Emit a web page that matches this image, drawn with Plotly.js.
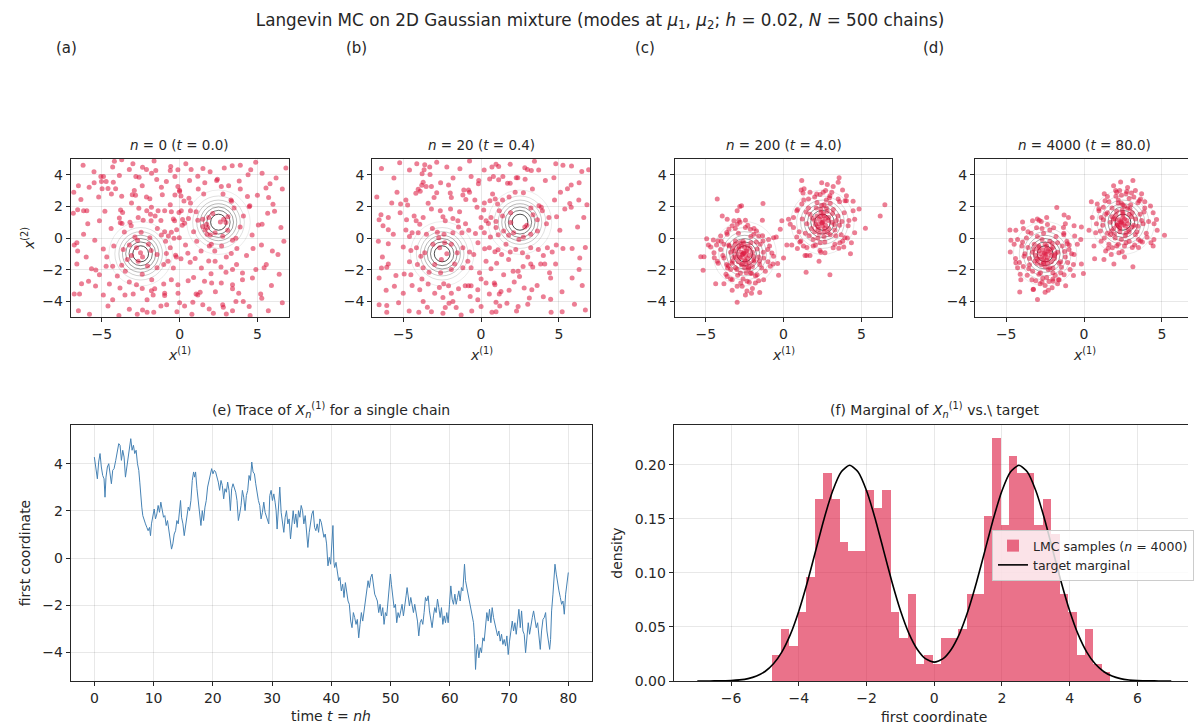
<!DOCTYPE html>
<html>
<head>
<meta charset="utf-8">
<script src="https://cdn.plot.ly/plotly-3.0.1.min.js"></script>
<style>
html,body{margin:0;padding:0;background:#fff;}
#chart{width:1194px;height:726px;}
</style>
</head>
<body>
<div id="chart"></div>
<script>
// ---------------- DATA ----------------
const panelLetters = ['(a)', '(b)', '(c)', '(d)'];
const panelSteps = [0, 20, 200, 4000];
const panelTimes = ['0.0', '0.4', '4.0', '80.0'];
const modeCenters = [[-2.5, -1.0], [2.5, 1.0]];
const contourRadii = [2.04, 1.66, 1.40, 1.17, 0.965, 0.75, 0.507];
const contourGreys = ['rgba(0,0,0,0.08)', 'rgba(0,0,0,0.13)', 'rgba(0,0,0,0.2)', 'rgba(0,0,0,0.28)', 'rgba(0,0,0,0.38)', 'rgba(0,0,0,0.5)', 'rgba(0,0,0,0.7)'];

const ptsA = [
[-4.19,4.85],[-3.72,4.96],[-1.64,4.87],[-0.57,4.53],[-0.6,4.28],[-0.11,4.32],[0.74,4.34],[1.96,4.19],[2.87,4.43],[3.38,4.57],[4.57,4.32],[4.89,4.79],[6.83,4.43],[-4.3,4.49],[-3.23,4.34],[-2.38,4.47],[-2.13,4.34],[-1.53,4.28],
[-5.06,3.89],[-4.89,3.89],[-5.49,3.49],[-5.81,3.21],[-5.02,3.57],[-4.72,3.57],[-4.98,3.11],[-4.6,3.13],[-4.26,3.53],[-3.87,3.96],[-2.81,3.89],[-2.6,3.85],[-4.11,3.11],[-1.47,3.7],[-1.17,3.21],[-0.85,3.57],[-0.11,3.26],[0,3.02],[0.64,3.64],[1.17,3.91],[1.62,3.49],[2.38,3.64],[2.43,3.72],[2.68,3.26],[3.15,3.3],[3.83,3.6],[5.55,3.17],[5.81,3.43],[-2.91,3.0],
[-6.34,2.43],[-4.38,2.79],[-3.72,2.64],[-3.04,2.74],[-2.83,2.7],[-2.13,2.6],[-1.91,2.49],[-3.09,2.21],[-2.62,1.89],[-1.81,1.94],[-1.11,2.74],[-0.3,2.72],[0.09,2.66],[0,2.94],[0.28,2.34],[0.6,2.51],[0.7,2.21],[1.55,2.79],[2.79,2.79],[3.3,2.4],[3.34,2.32],[4.36,2.62],[4.51,2.04],[5.72,2.57],[6.0,2.13],[-6.55,1.79],[-6.17,1.72],[-5.96,1.72],[-6.83,1.57],
[-5.15,1.09],[-3.87,1.26],[-3.79,1.77],[-3.66,1.62],[-3.81,0.96],[-3.7,0.91],[-3.19,1.0],[-2.66,1.3],[-2.34,1.13],[-2.11,1.72],[-1.87,1.51],[-1.83,1.09],[-1.57,1.4],[-1.38,1.72],[-0.96,1.72],[-0.53,1.66],[-0.4,1.21],[-0.32,1.09],[-0.04,1.62],[0.11,1.72],[0.19,1.17],[0.57,1.23],[0.32,0.94],[0.7,1.72],[1.06,1.66],[1.17,1.13],[1.49,1.19],[1.87,1.3],[1.49,0.72],[1.74,0.87],[2.13,1.55],[2.62,1.02],[2.83,1.19],[2.98,0.98],[3.11,1.34],[4.47,1.98],[5.06,0.83],[5.3,0.87],[5.66,1.57],[6.51,0.66],[1.81,0.66],
[-3.55,0.38],[-3.11,0.77],[-2.87,0.06],[-2.7,-0.15],[-2.47,0.36],[-1.91,0.02],[-1.43,0.6],[-1.17,0.19],[-0.96,0.4],[-0.72,0.13],[-0.53,0.36],[-0.36,-0.02],[-0.19,0.53],[-0.02,0.02],[0.17,0.81],[-6.17,0.23],[-5.45,-0.15],[-6.77,-0.45],[-6.6,-0.3],[1.64,0.51],[1.77,0.23],[1.98,0.19],[2.28,0.34],[2.77,0.11],[3.09,0.49],[3.4,-0.15],[3.62,-0.02],[3.89,0.7],[4.66,0.19],
[-6.55,-0.83],[-4.23,-0.51],[-3.62,-0.72],[-3.23,-0.45],[-3.09,-1.11],[-2.77,-0.62],[-2.51,-0.94],[-2.38,-1.21],[-1.83,-0.79],[-1.45,-1.04],[-0.85,-0.98],[-0.6,-0.62],[-0.26,-1.09],[-0.21,-1.21],[0.38,-0.45],[0.53,-0.96],[1.38,-0.83],[1.91,-0.51],[2.26,-0.83],[2.04,-0.4],[3.32,-0.98],[3.68,-0.66],[4.72,-0.66],[5.26,-0.45],[5.96,-0.83],[6.32,-1.04],[-4.68,-1.21],
[-6.6,-1.64],[-5.38,-2.02],[-5.15,-2.32],[-4.72,-1.79],[-4.3,-1.79],[-3.72,-1.72],[-3.49,-2.11],[-3.36,-1.36],[-2.66,-1.47],[-2.06,-1.77],[-1.45,-1.89],[-1.02,-1.68],[-0.74,-1.47],[0.09,-1.32],[0.68,-1.53],[1.0,-1.3],[1.87,-1.45],[2.28,-1.47],[2.66,-1.83],[2.98,-2.17],[3.4,-2.0],[4.04,-2.21],[3.66,-1.68],[5.57,-1.68],[5.43,-1.89],[-5.66,-1.94],[2.02,-2.26],
[-5.85,-2.74],[-5.4,-3.04],[-4.51,-2.91],[-3.83,-3.17],[-3.23,-2.79],[-2.77,-2.96],[-1.79,-2.64],[-1.81,-3.34],[-1.6,-3.21],[-1.02,-2.91],[-0.11,-2.96],[-0.53,-2.64],[0.55,-2.7],[1.6,-2.74],[2.06,-2.85],[2.68,-2.85],[3.4,-2.96],[3.4,-3.21],[4.04,-2.64],[4.68,-2.53],
[-6.77,-3.55],[-6.43,-3.55],[-3.51,-3.6],[-2.98,-3.55],[-2.09,-3.91],[-1.7,-3.6],[-0.96,-3.49],[-0.96,-3.64],[-0.83,-4.23],[0.32,-4.3],[0.85,-4.06],[1.06,-3.55],[1.32,-3.43],[1.17,-3.6],[1.49,-4.23],[2.77,-4.23],[2.81,-4.38],[3.62,-4.02],[4.09,-4.02],[4.47,-4.34],[5.21,-3.55],[5.28,-3.81],[-4.3,-3.91],
[-5.79,-4.83],[-3.23,-4.51],[-2.72,-4.83],[-2.38,-4.55],[-2.09,-4.7],[-1.66,-4.7],[-0.17,-4.66],[0.79,-4.83],[2.17,-4.77],[3.0,-4.81],[4.53,-4.91],
[-6.2,4.6],[-5.5,4.2],[-6.5,3.3],[-3.0,4.7],[-0.3,3.9],[0.4,4.7],[1.5,4.4],[3.9,4.6],[5.3,4.1],[6.2,3.8],[-6.8,2.9],[-5.2,2.6],[-2.4,3.3],[-0.6,2.1],[1.2,3.1],[3.9,3.1],[5.0,2.7],[6.6,3.1],[-4.8,1.7],[-4.4,0.6],[-1.2,1.1],[0.9,0.4],[3.5,1.9],[4.1,1.4],[6.1,1.7],[-5.9,0.9],[-4.9,-0.7],[-2.0,-0.4],[-0.9,-0.2],[1.1,-0.2],[2.7,-0.5],[4.3,-1.1],[6.7,-0.2],[-6.0,-1.2],[-4.0,-2.4],[-2.4,-2.3],[-0.4,-1.9],[1.4,-1.9],[3.0,-1.2],[4.9,-2.0],[6.4,-2.3],[-6.3,-2.9],[-4.9,-3.6],[-2.4,-3.2],[-0.1,-3.5],[0.9,-2.5],[2.3,-3.4],[3.8,-3.5],[5.9,-3.0],[6.6,-4.1],[-6.5,-4.6],[-4.6,-4.3],[-1.2,-4.3],[1.9,-4.5],[3.4,-4.6],[5.7,-4.6],[-3.9,-4.9],[0.0,-4.1],[4.4,4.0],[-1.8,4.1]
];

const ptsB = [
[-5.23,4.77],[-4.13,4.7],[-3.62,4.64],[-2.85,4.79],[-3.66,4.32],[-3.79,4.06],[-3.28,4.02],[-1.36,4.38],[-0.74,4.87],[0.96,4.66],[0.7,4.49],[1.13,4.53],[1.87,4.66],[3.43,4.85],[2.98,4.34],[3.23,4.28],[2.81,4.45],[5.26,4.6],[5.81,4.55],[6.47,4.21],[6.91,4.32],
[-0.64,3.89],[-3.72,3.53],[-3.81,3.34],[-3.53,3.26],[-3.19,3.26],[-4.04,3.09],[-2.6,3.49],[-2.09,3.36],[-1.11,3.04],[-0.81,3.04],[-0.15,3.64],[-0.17,3.43],[0.55,3.74],[0.79,3.89],[1.13,3.68],[1.7,3.47],[1.87,3.47],[2.26,3.81],[2.36,3.81],[2.83,3.72],[4.13,3.64],[4.68,3.81],[5.55,3.11],[5.79,3.36],
[-4.19,2.83],[-3.91,2.96],[-3.02,2.57],[-2.85,2.87],[-1.98,2.85],[-1.91,2.57],[-1.17,2.72],[-0.74,2.89],[-0.98,2.43],[-5.74,2.21],[-5.17,2.15],[-4.83,2.4],[-4.72,2.09],[0.57,2.36],[0.21,2.21],[0.91,2.47],[1.06,2.15],[1.38,2.4],[0.74,2.79],[2.19,2.89],[2.72,2.87],[3.72,2.04],[3.87,1.94],[4.72,2.4],[5.7,2.19],[6.28,2.4],
[-6.55,1.15],[-6.43,1.47],[-5.96,1.3],[-6.3,0.77],[-4.79,1.15],[-4.3,1.4],[-4.17,1.09],[-3.94,0.87],[-3.72,1.3],[-3.19,1.83],[-2.62,1.72],[-2.45,1.34],[-2.3,1.09],[-1.96,1.83],[-1.81,1.23],[-1.49,1.09],[-1.38,1.66],[-0.26,1.94],[0,1.3],[0.17,1.77],[0.32,1.09],[0.47,0.91],[0.64,1.3],[0.96,1.04],[1.17,1.72],[1.38,1.4],[1.91,0.98],[2.81,0.7],[2.94,0.81],[3.34,1.47],[3.62,1.15],[3.94,1.72],[4.36,1.3],[4.85,1.34],[5.38,1.83],[5.79,1.94],[6.6,1.3],
[-5.96,0.53],[-5.64,0.23],[-4.83,0.51],[-4.43,0.34],[-4.04,0.34],[-3.51,0.23],[-3.13,0.6],[-2.81,0.36],[-2.72,0.02],[-2.38,0.23],[-1.81,0.34],[-1.45,0.7],[-1.23,0.34],[-0.79,0.49],[-0.36,0.28],[0,0.66],[0.21,0.34],[0.6,0.06],[0.96,0.66],[1.45,0.45],[1.77,0.17],[2.09,0.34],[2.43,-0.09],[2.72,0.06],[3.19,0.23],[3.62,0.45],[5.06,0.49],
[-5.96,-0.36],[-5.0,-0.57],[-4.51,-0.79],[-4.15,-0.62],[-3.87,-1.15],[-3.62,-0.94],[-3.09,-0.4],[-2.66,-0.62],[-2.34,-0.3],[-1.91,-0.4],[-1.53,-0.94],[-1.17,-0.62],[-0.74,-0.89],[-0.47,-1.04],[0.23,-0.68],[0.53,-0.62],[0.89,-0.87],[1.09,-0.74],[1.32,-1.04],[1.87,-0.89],[2.23,-0.72],[2.66,-0.94],[3.19,-0.62],[3.68,-0.72],[4.26,-0.62],[4.57,-0.89],[4.83,-0.45],[5.26,-0.66],[5.85,-0.66],[6.34,-1.26],[-6.34,-1.21],
[-5.96,-1.64],[-6.06,-1.85],[-5.47,-2.38],[-4.94,-2.28],[-4.51,-2.32],[-4.09,-1.68],[-3.72,-1.89],[-3.34,-2.17],[-2.98,-1.68],[-2.55,-1.36],[-1.91,-2.0],[-1.7,-1.64],[-1.17,-1.89],[-0.85,-1.47],[-0.64,-1.89],[0.32,-1.47],[0.64,-1.94],[1.45,-2.32],[1.77,-1.36],[2.06,-2.11],[2.38,-2.11],[2.47,-2.43],[3.19,-1.64],[3.32,-1.83],[3.83,-1.64],[4.09,-1.64],[4.79,-1.64],
[-6.55,-2.53],[-5.57,-3.06],[-4.43,-3.0],[-3.94,-3.28],[-3.4,-2.91],[-2.98,-3.49],[-2.68,-3.13],[-2.09,-3.02],[-1.91,-3.49],[-1.45,-3.21],[-1.02,-3.02],[-0.81,-3.02],[-0.64,-3.02],[-0.21,-3.28],[0.32,-2.85],[0.85,-2.85],[0.89,-2.96],[1.28,-3.38],[2.13,-2.79],[2.77,-3.17],[3.26,-3.28],[4.47,-2.53],[5.85,-2.53],
[-6.55,-4.23],[-6.06,-4.28],[-6.06,-4.7],[-4.62,-4.62],[-3.72,-4.02],[-3.45,-4.38],[-2.45,-3.77],[-2.06,-4.13],[-2.3,-4.4],[-1.81,-4.02],[-2.45,-4.77],[-3.19,-4.66],[-1.28,-4.87],[-0.6,-4.62],[-0.21,-3.91],[0,-4.34],[0.53,-3.55],[0.7,-4.7],[0.96,-4.06],[1.17,-3.55],[1.66,-4.13],[2.28,-4.62],[2.38,-4.34],[4.0,-3.72],[4.47,-3.87],[5.21,-4.66],[6.7,-4.55],[0.96,-4.66],
[-6.4,4.4],[-5.6,3.8],[-4.6,4.3],[-2.2,4.5],[-1.8,3.8],[0.2,4.3],[1.4,3.9],[3.7,4.3],[4.8,4.7],[6.3,3.5],[-6.7,2.6],[-5.4,2.9],[-3.4,2.2],[-0.4,2.4],[1.8,2.6],[3.3,3.1],[5.1,2.9],[6.8,2.1],[-5.2,1.6],[-4.6,0.1],[-1.0,0.9],[1.1,0.2],[3.2,1.9],[4.2,0.9],[6.2,0.7],[-6.6,-0.2],[-4.6,-1.5],[-2.2,-1.0],[-0.2,-0.3],[1.6,-0.4],[3.0,-1.2],[4.0,-1.1],[6.7,-0.6],[-6.4,-1.9],[-3.8,-2.6],[-2.6,-2.2],[-0.1,-2.2],[1.0,-1.6],[2.7,-1.8],[4.4,-2.2],[6.3,-2.0],[-6.1,-3.3],[-5.0,-3.5],[-2.4,-2.9],[0.0,-2.6],[1.8,-3.3],[3.6,-3.0],[5.2,-3.4],[6.5,-3.0],[-5.3,-4.1],[-4.0,-4.7],[-1.6,-4.4],[1.2,-4.3],[3.0,-4.2],[4.5,-4.7],[6.0,-4.2],[-0.7,-3.7],[3.1,-3.8],[-3.3,4.5],[1.9,1.6]
];

const ptsC = [
[-4.26,2.47],[-2.98,1.72],[-2.81,2.0],[-2.7,2.04],[-1.32,2.19],[-3.94,1.4],[-3.62,1.19],[-3.19,1.09],[-2.87,1.13],[-2.45,1.13],[-1.36,1.13],[-2.98,0.87],[-3.3,0.77],[-2.45,0.66],[-2.13,0.55],[-1.74,0.45],[-3.51,0.55],[-3.62,0.23],[-4.04,0.13],[-4.94,-0.04],[-4.51,-0.13],[-4.21,-0.19],[-4.83,-0.45],[-4.68,-0.57],[-4.3,-0.45],[-4.04,-0.72],[-4.47,-0.94],[-5.32,-1.19],[-5.11,-1.19],[-5.17,-2.04],[-4.26,-1.47],[-3.83,-1.26],[-3.66,-1.68],[-3.4,-2.0],[-3.62,-2.43],[-4.36,-2.89],[-3.83,-2.89],[-3.3,-2.64],[-2.98,-3.06],[-2.66,-3.06],[-2.45,-3.6],[-2.06,-3.49],[-1.81,-2.85],[-1.53,-3.45],[-2.98,-4.06],[-2.34,-2.74],[-2.77,-2.21],[-2.13,-2.21],[-1.7,-2.32],[-1.28,-2.64],[-1.17,-2.11],[-0.85,-1.79],[-0.68,-1.64],[-0.32,-2.36],[-0.38,-1.62],[-0.64,-1.15],[-1.02,-0.72],[-0.96,-0.09],[-0.64,0.02],[-0.47,0.06],[-0.21,0.55],[0,-1.26],[-1.32,-0.19],[-1.6,0.13],[-1.91,0.23],[-1.28,-1.26],[-1.53,-1.68],[-1.91,-1.47],[-2.23,-1.89],[-3.09,-1.89],[-3.3,-1.47],[-3.19,-0.83],[-3.51,-0.45],[-3.83,-0.4],[-3.09,-0.19],
[-2.6,-1.0],[-2.4,-0.8],[-2.8,-1.2],[-2.2,-1.1],[-2.9,-0.7],[-2.5,-1.4],[-2.7,-0.5],[-2.3,-0.5],[-3.0,-1.0],[-2.0,-0.9],[-2.4,-1.7],[-2.9,-1.5],[-3.2,-1.2],[-1.9,-1.4],[-2.1,-0.3],[-2.6,-0.2],[-3.1,-0.4],[-2.5,-1.9],[-3.4,-0.9],[-1.7,-0.7],[-2.2,-1.6],[-2.7,-0.9],[-2.5,-0.6],[-2.45,-1.1],[-2.8,-0.3],[-2.0,-1.8],[-3.3,-1.6],[-1.6,-1.2],[-2.4,-2.2],[-3.0,-2.0],[-2.7,-1.7],[-2.1,0.1],[-3.5,-0.5],[-1.5,-0.4],[-2.9,0.3],[-2.3,-1.3],[-2.65,-1.05],[-2.55,-0.95],[-2.75,-1.25],[-2.35,-0.85],
[-3.6,-1.9],[-1.8,-2.4],[-3.9,-1.1],[-1.3,-0.9],[-2.2,-2.8],[-3.1,0.6],[-1.9,0.6],[-2.6,-2.6],[-3.7,-2.3],[-1.4,-1.9],[-4.2,-1.6],[-1.0,-1.5],[-3.3,-3.3],[-2.0,-3.2],[-2.8,1.0],[-2.3,0.8],[-4.0,-0.2],[-0.9,-0.5],[-3.4,-2.6],[-1.6,-2.7],[-2.45,-1.45],[-2.85,-0.55],[-2.15,-0.65],[-3.05,-1.25],[-2.65,-1.65],[-1.95,-1.15],[-2.25,-1.95],[-3.25,-0.65],[-2.55,-0.35],[-1.75,-0.25],[-3.55,-1.75],[-1.55,-1.45],[-2.95,-2.35],[-2.05,-2.25],[-3.65,0.35],[-1.35,0.15],[-2.75,-2.85],[-2.35,-3.35],[-4.45,-1.25],[-0.75,-0.95],
[1.17,3.64],[1.13,3.04],[1.32,3.11],[1.7,2.89],[2.45,3.49],[2.81,3.38],[3.19,3.26],[3.57,3.81],[3.51,3.53],[3.79,3.04],[4.04,2.68],[4.47,2.32],[4.85,1.83],[6.51,2.11],[6.21,1.4],[5.26,0.62],[4.57,0.34],[4.36,-0.3],[4.3,-1.0],[3.87,-0.57],[2.98,-2.32],[2.28,-1.47],[1.45,-2.17],[1.49,-1.11],[1.38,-1.11],[0.89,-0.66],[0.53,-0.45],[0.21,-0.45],[-0.11,1.09],[0.32,1.19],[0.43,0.87],[0.64,0.66],[0.85,0.06],[1.11,-0.19],[1.28,-0.51],[1.91,-0.51],[2.34,-0.79],[2.66,-0.94],[3.19,-0.62],[3.62,-0.3],[3.94,0.02],[4.15,0.77],[4.57,1.19],[4.47,1.72],[4.04,2.36],[3.51,2.47],[2.98,2.68],[2.55,2.89],[2.13,2.79],[1.6,2.47],[1.17,2.15],[0.85,1.72],[0.64,1.3],
[2.5,1.0],[2.3,1.2],[2.7,0.8],[2.2,0.7],[2.9,1.3],[2.4,1.6],[2.6,0.4],[2.0,1.1],[3.1,1.0],[2.8,1.7],[1.8,0.6],[3.3,0.5],[2.1,1.9],[2.55,1.05],[2.45,0.95],[2.7,1.25],[2.3,0.3],[3.0,0.2],[1.7,1.5],[3.5,1.4],[2.6,2.1],[1.9,-0.1],[3.2,1.8],[2.2,0.0],[2.9,0.6],[1.5,0.9],[3.6,0.8],[2.4,1.35],[2.65,0.6],[2.85,1.1],[2.15,1.4],[3.4,1.1],[2.0,0.4],[2.75,2.4],[1.6,1.9],[3.0,2.2],[2.35,-0.3],[3.7,0.2],[1.4,0.3],[2.5,0.75],[2.6,1.4],[2.25,0.9],
[3.6,2.3],[1.5,-0.6],[3.9,1.6],[1.2,1.2],[3.3,-0.4],[2.0,2.6],[1.0,0.4],[3.8,-0.2],[2.7,3.0],[1.3,2.4],[4.2,1.1],[2.4,-0.9],[3.1,2.9],[1.7,-1.1],[4.1,0.0],[0.9,1.8],[2.55,1.55],[2.25,0.55],[2.85,0.35],[3.15,1.55],[1.85,1.25],[2.45,2.05],[3.35,0.15],[1.65,0.15],[2.95,2.55],[2.05,-0.45],[3.75,1.05],[1.45,1.65],[2.65,-0.25],[2.15,2.25],[3.55,-0.65],[1.05,-0.25],[2.35,2.75],[3.95,2.35],[1.25,2.85],[2.75,1.9],[2.05,0.85],[3.25,0.85],[2.6,0.1],[2.4,1.8]
];

const ptsD = [
[-1.75,1.93],[-1.28,1.45],[-1.0,1.3],[-2.88,1.13],[-3.31,1.09],[-3.95,1.02],[-4.76,0.51],[-4.38,0.49],[-4.7,-0.15],[-4.27,-0.09],[-4.49,-0.4],[-4.74,-0.89],[-4.38,-1.57],[-4.27,-1.89],[-4.06,-2.64],[-4.13,-3.41],[-3.27,-3.26],[-2.99,-3.9],[-2.5,-3.43],[-2.82,-2.9],[-1.99,-2.74],[-1.6,-2.64],[-1.18,-3.02],[-1.28,-2.32],[-0.68,-2.38],[-0.04,-2.25],[-0.17,-1.64],[-0.68,-1.68],[-0.64,-1.04],[-0.43,-0.4],[-0.6,0.13],[-0.21,-0.09],[-0.17,0.7],[-0.64,0.77],[-1.32,0.66],[-1.07,-0.36],[-0.96,-0.72],
[-2.5,-1.0],[-2.3,-0.8],[-2.7,-1.2],[-2.1,-1.1],[-2.9,-0.8],[-2.6,-1.5],[-2.4,-0.5],[-2.0,-0.6],[-3.1,-1.1],[-1.9,-1.3],[-2.5,-1.8],[-3.0,-1.6],[-3.3,-0.9],[-1.7,-0.9],[-2.2,-0.2],[-2.7,-0.1],[-3.2,-0.4],[-2.3,-2.0],[-3.5,-1.3],[-1.6,-1.6],[-2.8,-2.2],[-2.0,-1.9],[-3.6,-0.6],[-1.4,-0.5],[-2.6,0.3],[-3.0,0.1],[-1.8,0.1],[-2.4,-2.5],[-3.3,-2.1],[-1.5,-2.2],[-2.55,-0.95],[-2.45,-1.05],[-2.65,-0.75],[-2.35,-1.25],[-2.8,-1.0],[-2.2,-0.9],[-2.6,-1.3],[-2.4,-0.7],[-2.9,-1.35],[-2.1,-1.5],[-3.8,-1.0],[-1.2,-1.2],[-2.7,0.6],[-2.2,0.5],[-3.4,0.3],[-3.9,-1.8],[-1.1,-0.2],[-2.0,-2.6],[-3.1,-2.7],[-1.7,-2.9],[-2.5,-3.0],[-3.7,0.0],[-4.0,-0.5],[-1.3,0.3],[-2.9,-0.5],[-2.05,-0.35],[-3.15,-1.45],[-2.35,-1.6],[-1.85,-1.0],[-2.75,-1.7],
[-3.55,-1.95],[-1.85,-2.35],[-3.85,-1.15],[-1.25,-0.85],[-2.25,-2.75],[-3.05,0.65],[-1.95,0.65],[-2.65,-2.55],[-3.65,-2.35],[-1.45,-1.85],[-4.15,-1.55],[-1.05,-1.55],[-3.25,-3.25],[-2.05,-3.15],[-2.75,1.05],[-2.35,0.85],[-3.95,-0.25],[-0.95,-0.45],[-3.35,-2.65],[-1.65,-2.65],[-2.4,-1.4],[-2.9,-0.6],[-2.1,-0.7],[-3.0,-1.3],[-2.6,-1.6],[-1.9,-1.1],[-2.2,-1.9],[-3.2,-0.7],[-2.5,-0.4],[-1.7,-0.3],[-3.5,-1.7],[-1.5,-1.5],[-2.9,-2.3],[-2.0,-2.2],[-3.6,0.4],[-1.3,0.2],[-2.7,-2.8],[-2.3,-3.3],[-4.4,-1.3],[-0.8,-1.0],[-3.9,0.6],[-4.1,-2.3],[-0.9,-2.0],[-1.2,0.9],[-3.0,1.2],[-2.4,1.3],
[2.35,3.55],[3.14,3.64],[2.03,3.0],[2.29,3.0],[1.5,2.62],[0.47,2.3],[0.85,2.15],[1.24,1.94],[3.63,2.47],[3.46,2.23],[4.27,2.02],[4.44,1.6],[4.66,1.17],[4.7,0.49],[5.17,0.17],[4.49,-0.09],[4.44,-0.51],[3.63,-0.19],[3.14,-1.82],[1.92,-1.64],[1.28,-1.36],[0.68,-1.32],[0.64,-0.51],[1.39,-0.83],[1.82,-0.62],[2.24,-0.94],[0.32,0.49],[0.75,0.34],[0.53,1.3],[0.96,1.72],
[2.4,1.0],[2.6,1.2],[2.2,0.8],[2.8,0.9],[2.0,1.2],[2.5,1.6],[2.3,0.4],[2.9,1.5],[1.9,0.6],[3.1,0.7],[2.7,0.3],[2.1,1.7],[3.3,1.2],[1.7,1.0],[2.6,2.0],[3.0,2.1],[1.8,1.9],[2.4,-0.1],[3.4,0.4],[1.5,0.3],[2.0,0.0],[3.6,1.5],[1.4,1.5],[2.9,-0.2],[2.2,2.4],[3.2,2.6],[2.7,2.8],[1.6,2.3],[3.8,0.9],[1.2,0.8],[2.45,0.95],[2.35,1.05],[2.55,0.85],[2.25,1.15],[2.65,0.75],[2.15,0.9],[2.75,1.1],[2.5,1.3],[2.3,0.7],[2.05,1.45],[2.85,0.55],[3.05,1.35],[1.95,0.25],[3.5,-0.1],[2.6,-0.5],[1.6,-0.4],[3.9,1.9],[1.1,1.3],[2.1,2.9],[3.3,3.0],[2.8,3.2],[4.0,0.3],[1.3,0.0],[2.4,2.2],[3.1,-0.6],[1.8,1.35],[3.45,0.75],[2.95,1.85],[1.75,0.45],[2.2,-0.4],
[3.55,2.35],[1.55,-0.65],[3.85,1.65],[1.25,1.15],[3.25,-0.45],[2.05,2.65],[1.05,0.45],[3.75,-0.25],[2.75,2.95],[1.35,2.35],[4.15,1.05],[2.45,-0.85],[3.05,2.85],[1.75,-1.05],[4.05,0.05],[0.95,1.85],[2.5,1.5],[2.3,0.6],[2.9,0.4],[3.1,1.6],[1.9,1.2],[2.5,2.1],[3.3,0.2],[1.7,0.2],[2.9,2.5],[2.1,-0.5],[3.7,1.1],[1.5,1.6],[2.7,-0.3],[2.2,2.2],[3.5,-0.6],[1.1,-0.2],[2.4,2.7],[3.9,2.3],[1.3,2.8],[2.8,1.9],[2.1,0.8],[3.2,0.8],[2.65,0.15],[2.45,1.75],[4.3,-0.3],[0.8,0.9],[3.7,2.8],[1.9,3.3],[2.6,-1.2],[4.5,0.9]
];
const panelPoints = [ptsA, ptsB, ptsC, ptsD];

// single-chain trace (time, first coordinate)
const traceT = [0,0.28,0.51,0.73,0.96,1.18,1.41,1.64,1.80,1.97,2.20,2.43,2.65,2.88,3.10,3.33,3.61,3.89,4.12,4.34,4.57,4.79,5.02,5.25,5.47,5.70,5.92,6.15,6.37,6.60,6.82,7.05,7.28,7.50,7.67,7.84,8.01,8.18,8.40,8.63,8.86,9.08,9.31,9.48,9.64,9.87,10.10,10.32,10.55,10.77,11.00,11.22,11.45,11.68,11.90,12.13,12.35,12.58,12.80,13.03,13.25,13.48,13.71,13.93,14.16,14.38,14.55,14.72,14.95,15.17,15.40,15.62,15.85,16.07,16.30,16.53,16.75,16.92,17.09,17.32,17.54,17.77,17.99,18.22,18.44,18.67,18.89,19.12,19.35,19.57,19.80,20.02,20.25,20.47,20.70,20.92,21.15,21.38,21.60,21.83,22.05,22.28,22.50,22.73,22.96,23.18,23.41,23.63,23.86,24.08,24.31,24.53,24.76,24.99,25.21,25.44,25.66,25.89,26.11,26.34,26.57,26.79,27.02,27.24,27.47,27.69,27.92,28.14,28.37,28.60,28.82,29.05,29.27,29.44,29.61,29.84,30.06,30.29,30.51,30.68,30.85,31.08,31.30,31.53,31.75,31.98,32.21,32.43,32.66,32.88,33.11,33.33,33.56,33.78,34.01,34.24,34.46,34.69,34.91,35.14,35.36,35.59,35.81,36.04,36.27,36.49,36.72,36.94,37.17,37.39,37.62,37.85,38.07,38.30,38.52,38.75,38.97,39.20,39.43,39.65,39.88,40.10,40.27,40.44,
40.56,40.79,41.01,41.24,41.46,41.69,41.92,42.14,42.37,42.59,42.82,43.04,43.27,43.49,43.72,43.94,44.17,44.39,44.62,44.85,45.07,45.30,45.52,45.75,45.97,46.20,46.42,46.65,46.87,47.10,47.32,47.55,47.77,48.00,48.23,48.45,48.68,48.90,49.13,49.35,49.58,49.80,49.97,50.14,50.37,50.59,50.82,51.04,51.27,51.49,51.72,51.94,52.17,52.39,52.62,52.79,52.96,53.18,53.41,53.63,53.86,54.08,54.31,54.54,54.76,54.99,55.21,55.44,55.66,55.89,56.11,56.34,56.56,56.79,57.01,57.24,57.46,57.69,57.92,58.14,58.37,58.59,58.82,59.04,59.27,59.49,59.72,59.94,60.17,60.39,60.62,60.85,61.07,61.30,61.52,61.75,61.97,62.20,62.37,62.48,62.65,62.87,63.10,63.32,63.55,63.77,64.00,64.17,64.34,64.51,64.68,64.90,65.13,65.35,65.58,65.80,66.03,66.25,66.48,66.70,66.93,67.15,67.38,67.61,67.83,68.06,68.28,68.51,68.73,68.96,69.18,69.41,69.63,69.86,70.08,70.31,70.54,70.76,70.99,71.21,71.44,71.66,71.89,72.11,72.34,72.56,72.79,73.01,73.24,73.46,73.69,73.92,74.14,74.37,74.59,74.82,75.04,75.27,75.49,75.72,75.94,76.17,76.39,76.62,76.85,77.01,77.18,77.41,77.63,77.75,77.97,78.20,78.42,78.65,78.87,79.10,79.32,79.55,79.77,80.00];
const traceX = [4.28,3.72,3.36,4.07,4.43,3.86,3.50,3.36,2.58,3.43,3.86,4.00,3.57,3.15,3.72,3.79,4.14,4.64,4.85,4.78,4.14,4.57,4.28,3.43,3.86,4.21,4.78,5.06,4.57,4.78,4.43,4.57,4.00,3.72,3.22,2.58,2.16,1.80,1.59,1.45,1.30,1.16,1.30,0.95,1.45,1.80,2.08,1.66,1.87,2.23,1.94,2.37,2.01,1.73,1.80,1.38,1.59,1.16,0.88,0.38,0.60,1.02,1.16,1.59,1.45,1.87,2.44,1.73,1.45,0.95,1.38,1.94,2.16,2.01,2.44,3.29,3.65,3.43,3.65,2.94,2.44,1.80,1.38,2.01,1.59,2.16,2.44,3.01,3.29,3.65,3.79,3.57,3.72,3.65,3.43,3.22,2.87,3.29,3.08,2.51,2.94,2.79,3.22,2.87,2.01,2.94,3.15,3.01,2.79,2.44,1.59,1.87,2.23,2.87,2.58,2.01,2.65,2.87,3.50,3.29,4.07,3.65,3.57,3.15,2.72,2.44,2.23,1.66,1.94,2.37,1.94,1.73,1.59,1.45,2.65,2.87,2.44,2.72,2.37,2.01,1.23,2.30,3.01,1.94,1.45,1.09,1.73,2.01,1.45,1.66,0.81,1.52,2.01,1.45,1.87,1.30,2.01,1.73,2.23,2.01,1.45,1.80,1.16,0.45,1.09,1.52,1.87,2.01,1.30,1.16,1.45,1.09,1.66,1.52,1.16,0.88,1.02,0.60,-0.33,0.03,-0.26,0.52,1.38,-0.18,
-0.40,-0.18,-0.68,-0.96,-0.82,-1.39,-1.11,-1.67,-1.04,-1.39,-1.82,-1.96,-2.67,-2.95,-2.31,-2.52,-2.81,-2.60,-3.38,-2.81,-2.31,-2.67,-2.24,-1.74,-1.39,-0.96,-1.25,-0.82,-0.68,-1.04,-1.53,-1.67,-1.82,-2.31,-1.96,-2.45,-2.10,-2.81,-2.31,-2.45,-1.89,-1.25,-0.68,-1.11,-1.74,-2.10,-1.96,-2.74,-2.31,-2.52,-2.24,-1.96,-2.45,-2.10,-1.60,-1.25,-1.67,-2.03,-1.67,-2.03,-2.31,-1.96,-2.31,-2.67,-3.30,-2.74,-2.60,-2.81,-2.31,-1.67,-1.82,-1.60,-2.24,-2.67,-2.95,-2.45,-2.10,-2.31,-1.74,-2.10,-2.52,-2.10,-2.81,-2.45,-2.74,-2.31,-2.74,-1.96,-1.18,-1.74,-1.96,-1.53,-1.96,-1.67,-1.39,-1.82,-1.25,-1.39,-0.75,-0.26,-0.96,-1.25,-1.67,-1.89,-2.31,-2.52,-2.74,-3.38,-4.72,-3.94,-3.66,-4.23,-3.80,-4.01,-3.38,-3.52,-3.02,-2.31,-2.67,-2.17,-2.74,-2.10,-2.52,-2.81,-3.09,-3.30,-3.09,-3.52,-3.23,-3.66,-3.45,-3.73,-3.30,-4.09,-3.52,-3.09,-2.67,-3.09,-2.74,-3.23,-2.52,-2.17,-2.95,-2.24,-3.09,-3.23,-4.01,-3.38,-2.74,-3.23,-2.95,-2.52,-2.24,-2.67,-2.95,-2.74,-3.30,-3.87,-3.09,-2.60,-2.52,-2.31,-3.09,-3.59,-3.87,-3.45,-2.24,-1.53,-0.82,-0.26,-0.68,-1.11,-1.39,-1.67,-1.96,-1.82,-2.38,-1.53,-1.11,-0.61];

// histogram of first coordinate at n = 4000 (N = 500 chains)
const histStart = -4.78;
const histBinWidth = 0.2495;
const histCounts = [3,6,4,8,12,21,24,21,16,15,15,22,20,22,8,5,10,2,3,2,5,5,6,10,10,19,28,18,26,24,24,18,21,17,10,8,3,6,2,1];
const nChains = 500;

// target marginal density
const targetX = [-7,-6.75,-6.5,-6.25,-6,-5.75,-5.5,-5.25,-5,-4.75,-4.5,-4.25,-4,-3.75,-3.5,-3.25,-3,-2.75,-2.5,-2.25,-2,-1.75,-1.5,-1.25,-1,-0.75,-0.5,-0.25,0,0.25,0.5,0.75,1,1.25,1.5,1.75,2,2.25,2.5,2.75,3,3.25,3.5,3.75,4,4.25,4.5,4.75,5,5.25,5.5,5.75,6,6.25,6.5,6.75,7];
const targetY = [0.0000,0.0000,0.0001,0.0002,0.0004,0.0010,0.0022,0.0046,0.0088,0.0159,0.0270,0.0431,0.0648,0.0913,0.1210,0.1506,0.1760,0.1933,0.1995,0.1933,0.1760,0.1506,0.1211,0.0915,0.0652,0.0441,0.0292,0.0204,0.0175,0.0204,0.0292,0.0441,0.0652,0.0915,0.1211,0.1506,0.1760,0.1933,0.1995,0.1933,0.1760,0.1506,0.1210,0.0913,0.0648,0.0431,0.0270,0.0159,0.0088,0.0046,0.0022,0.0010,0.0004,0.0002,0.0001,0.0000,0.0000];

// ---------------- LAYOUT CONSTANTS ----------------
const W = 1194, H = 726;
const FONT = 'DejaVu Sans, sans-serif';
const INK = '#262626';
const GRID = 'rgba(0,0,0,0.09)';
const TICK = 14, LAB = 14;
const topRow = [1 - 317 / H, 1 - 159 / H];
const botRow = [1 - 681 / H, 1 - 425 / H];
const colPx = [[71, 290], [374, 593], [678, 897], [980, 1194]];

function baseAxis(extra) {
  return Object.assign({
    showline: true, linecolor: INK, linewidth: 1, mirror: true,
    ticks: 'outside', ticklen: 4, tickwidth: 1, tickcolor: INK,
    showgrid: true, gridcolor: GRID, gridwidth: 1, zeroline: false,
    tickfont: {family: FONT, size: TICK, color: INK},
    fixedrange: true
  }, extra);
}
function label(text, xPx, yPx, size, extra) {
  return Object.assign({
    xref: 'paper', yref: 'paper', x: xPx / W, y: 1 - yPx / H, xanchor: 'center', yanchor: 'middle',
    text: text, showarrow: false, font: {family: FONT, size: size, color: INK}
  }, extra || {});
}

const traces = [];
const layout = {
  width: W, height: H,
  margin: {l: 0, r: 0, t: 0, b: 0},
  paper_bgcolor: '#fff', plot_bgcolor: '#fff',
  font: {family: FONT, color: INK},
  showlegend: true,
  title: {
    text: 'Langevin MC on 2D Gaussian mixture (modes at <i>μ</i><sub>1</sub>, <i>μ</i><sub>2</sub>; <i>h</i> = 0.02, <i>N</i> = 500 chains)',
    x: 600 / W, xanchor: 'center', y: 1 - 20 / H, yanchor: 'middle',
    font: {family: FONT, size: 16.8, color: INK}
  },
  annotations: [],
  shapes: [],
  legend: {
    x: 997 / W, y: 1 - 530 / H, xanchor: 'left', yanchor: 'top',
    bgcolor: 'rgba(255,255,255,0.8)', bordercolor: '#cccccc', borderwidth: 1,
    font: {family: FONT, size: 12.5, color: INK},
    itemwidth: 30, tracegroupgap: 2
  }
};

// ---------------- TOP ROW: 4 scatter panels ----------------
for (let i = 0; i < 4; i++) {
  const k = i + 1;
  const xa = 'xaxis' + (k === 1 ? '' : k), ya = 'yaxis' + (k === 1 ? '' : k);
  const xr = 'x' + (k === 1 ? '' : k), yr = 'y' + (k === 1 ? '' : k);
  const dom = [colPx[i][0] / W, colPx[i][1] / W];
  const clipped = (i === 3);
  const xRange = clipped ? [-7, -7 + 14 * (colPx[i][1] - colPx[i][0]) / 219] : [-7, 7];
  layout[xa] = baseAxis({domain: dom, anchor: yr, range: xRange, tickvals: [-5, 0, 5]});
  layout[ya] = baseAxis({
    domain: topRow, anchor: xr, range: [-5, 5], tickvals: [-4, -2, 0, 2, 4],
    mirror: clipped ? false : true,
    title: i === 0 ? {text: '<i>x</i><sup>(2)</sup>', font: {family: FONT, size: LAB, color: INK}, standoff: 4} : {text: ''}
  });
  modeCenters.forEach(c => {
    contourRadii.forEach((r, j) => {
      layout.shapes.push({
        type: 'circle', xref: xr, yref: yr, layer: 'below',
        x0: c[0] - r, x1: c[0] + r, y0: c[1] - r, y1: c[1] + r,
        line: {color: contourGreys[j], width: 1}
      });
    });
  });
  const pts = panelPoints[i];
  traces.push({
    type: 'scatter', mode: 'markers', xaxis: xr, yaxis: yr, showlegend: false,
    x: pts.map(p => p[0]), y: pts.map(p => p[1]),
    marker: {size: 5, color: 'rgba(220,20,60,0.55)', line: {width: 0}},
    hoverinfo: 'skip', cliponaxis: true
  });
  const cxPx = clipped ? (colPx[i][0] + 219 / 2) : (colPx[i][0] + colPx[i][1]) / 2;
  layout.annotations.push(label('<i>n</i> = ' + panelSteps[i] + ' (<i>t</i> = ' + panelTimes[i] + ')', cxPx, 145, 13.5));
  layout.annotations.push(label('<i>x</i><sup>(1)</sup>', cxPx, 354, LAB));
  layout.annotations.push(label(panelLetters[i], [67, 358, 648, 938][i], 48, 15));
}

// ---------------- (e) trace ----------------
layout.xaxis5 = baseAxis({
  domain: [71 / W, 595 / W], anchor: 'y5', range: [-4, 84], tickvals: [0, 10, 20, 30, 40, 50, 60, 70, 80]
});
layout.yaxis5 = baseAxis({
  domain: botRow, anchor: 'x5', range: [-5.21, 5.64], tickvals: [-4, -2, 0, 2, 4],
  title: {text: 'first coordinate', font: {family: FONT, size: LAB, color: INK}, standoff: 8}
});
traces.push({
  type: 'scatter', mode: 'lines', xaxis: 'x5', yaxis: 'y5', showlegend: false,
  x: traceT, y: traceX, line: {color: '#4682b4', width: 1}, hoverinfo: 'skip'
});
layout.annotations.push(label('(e) Trace of <i>X</i><sub><i>n</i></sub><sup>(1)</sup> for a single chain', 333, 410, LAB));
layout.annotations.push(label('time <i>t</i> = <i>nh</i>', 333, 716, LAB));

// ---------------- (f) histogram vs target ----------------
const fLeft = 677, fRightFull = 1201;
layout.xaxis6 = baseAxis({
  domain: [fLeft / W, 1], anchor: 'y6',
  range: [-7.7, -7.7 + 15.4 * (W - fLeft) / (fRightFull - fLeft)],
  tickvals: [-6, -4, -2, 0, 2, 4, 6]
});
layout.yaxis6 = baseAxis({
  domain: botRow, anchor: 'x6', range: [0, 0.2368], tickvals: [0, 0.05, 0.10, 0.15, 0.20], tickformat: '.2f',
  mirror: false,
  title: {text: 'density', font: {family: FONT, size: LAB, color: INK}, standoff: 8}
});
const binCenters = histCounts.map((c, i) => histStart + (i + 0.5) * histBinWidth);
const binDensity = histCounts.map(c => c / (nChains * histBinWidth));
traces.push({
  type: 'bar', xaxis: 'x6', yaxis: 'y6', name: 'LMC samples (<i>n</i> = 4000)',
  x: binCenters, y: binDensity, width: histCounts.map(() => histBinWidth),
  marker: {color: 'rgba(220,20,60,0.6)', line: {width: 0}}, hoverinfo: 'skip'
});
traces.push({
  type: 'scatter', mode: 'lines', xaxis: 'x6', yaxis: 'y6', name: 'target marginal',
  x: targetX, y: targetY, line: {color: '#000000', width: 1.6, shape: 'spline', smoothing: 0.6}, hoverinfo: 'skip'
});
layout.annotations.push(label('(f) Marginal of <i>X</i><sub><i>n</i></sub><sup>(1)</sup> vs.\\ target', 939, 410, LAB));
layout.annotations.push(label('first coordinate', 939, 717, LAB));
layout.bargap = 0;

Plotly.newPlot('chart', traces, layout, {displayModeBar: false, staticPlot: true});
</script>
</body>
</html>
